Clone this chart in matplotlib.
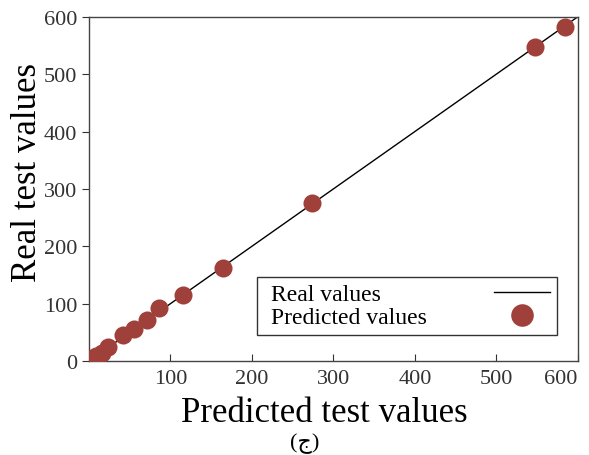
import numpy as np
import matplotlib
matplotlib.use("Agg")
import matplotlib.pyplot as plt
from matplotlib.offsetbox import DrawingArea, HPacker

plt.rcParams['font.family'] = ['Liberation Serif', 'DejaVu Sans']

# predicted vs real test values
predicted = [2, 9, 16, 23, 42, 55, 71, 86, 115, 164, 274, 548, 584]
real = [3, 9, 14, 24, 45, 56, 71, 92, 115, 163, 275, 548, 583]
line_x = [0, 600]
xticks = [100, 200, 300, 400, 500, 600]
yticks = [0, 100, 200, 300, 400, 500, 600]

fig = plt.figure(figsize=(5.89, 4.56), dpi=100)
ax = fig.add_axes([0.151, 0.206, 0.83, 0.755])

ax.plot(line_x, line_x, color='black', lw=1, label='Real values', zorder=2)
ax.plot(predicted, real, 'o', color='#a0403a', ms=13, mec='none',
        label='Predicted values', zorder=3)

ax.set_xlim(0, 600)
ax.set_ylim(0, 600)
ax.set_xticks(xticks)
ax.set_yticks(yticks)
ax.tick_params(axis='x', direction='in', length=5, labelsize=16, colors='#333333', pad=6)
ax.tick_params(axis='y', direction='out', length=5, labelsize=16, colors='#333333')
ax.get_xticklabels()[-1].set_horizontalalignment('right')
for s in ax.spines.values():
    s.set_color('#444444')
    s.set_linewidth(1)

ax.set_xlabel('Predicted test values', fontsize=25)
ax.set_ylabel('Real test values', fontsize=25)
ax.xaxis.set_label_coords(0.482, -0.102)
ax.yaxis.set_label_coords(-0.092, 0.552)

fs = 17
leg = ax.legend(loc='lower right', bbox_to_anchor=(0.958, 0.075), borderaxespad=0,
                markerfirst=False, fontsize=fs, frameon=True, fancybox=False,
                handlelength=2.4, handletextpad=3.1, labelspacing=0.05,
                borderpad=0.3, markerscale=1.25)
leg.get_frame().set_edgecolor('black')
leg.get_frame().set_linewidth(1)

# left-align the labels while keeping the handles in one column on the right
fig.canvas.draw()
r = fig.canvas.get_renderer()
widths = [t.get_window_extent(r).width * 72 / fig.dpi for t in leg.get_texts()]
col = leg._legend_handle_box.get_children()[0]
col.align = 'left'
indent = 5
for row, w in zip(col.get_children(), widths):
    t, h = row._children
    row._children = [HPacker(pad=0, sep=0, children=[DrawingArea(indent, 1), t]), h]
    row.sep = 3.1 * fs - indent + (max(widths) - w)

fig.text(0.518, 0.005, '(ج)', ha='center', va='bottom', fontsize=16)

fig.savefig('out.png', dpi=100)
